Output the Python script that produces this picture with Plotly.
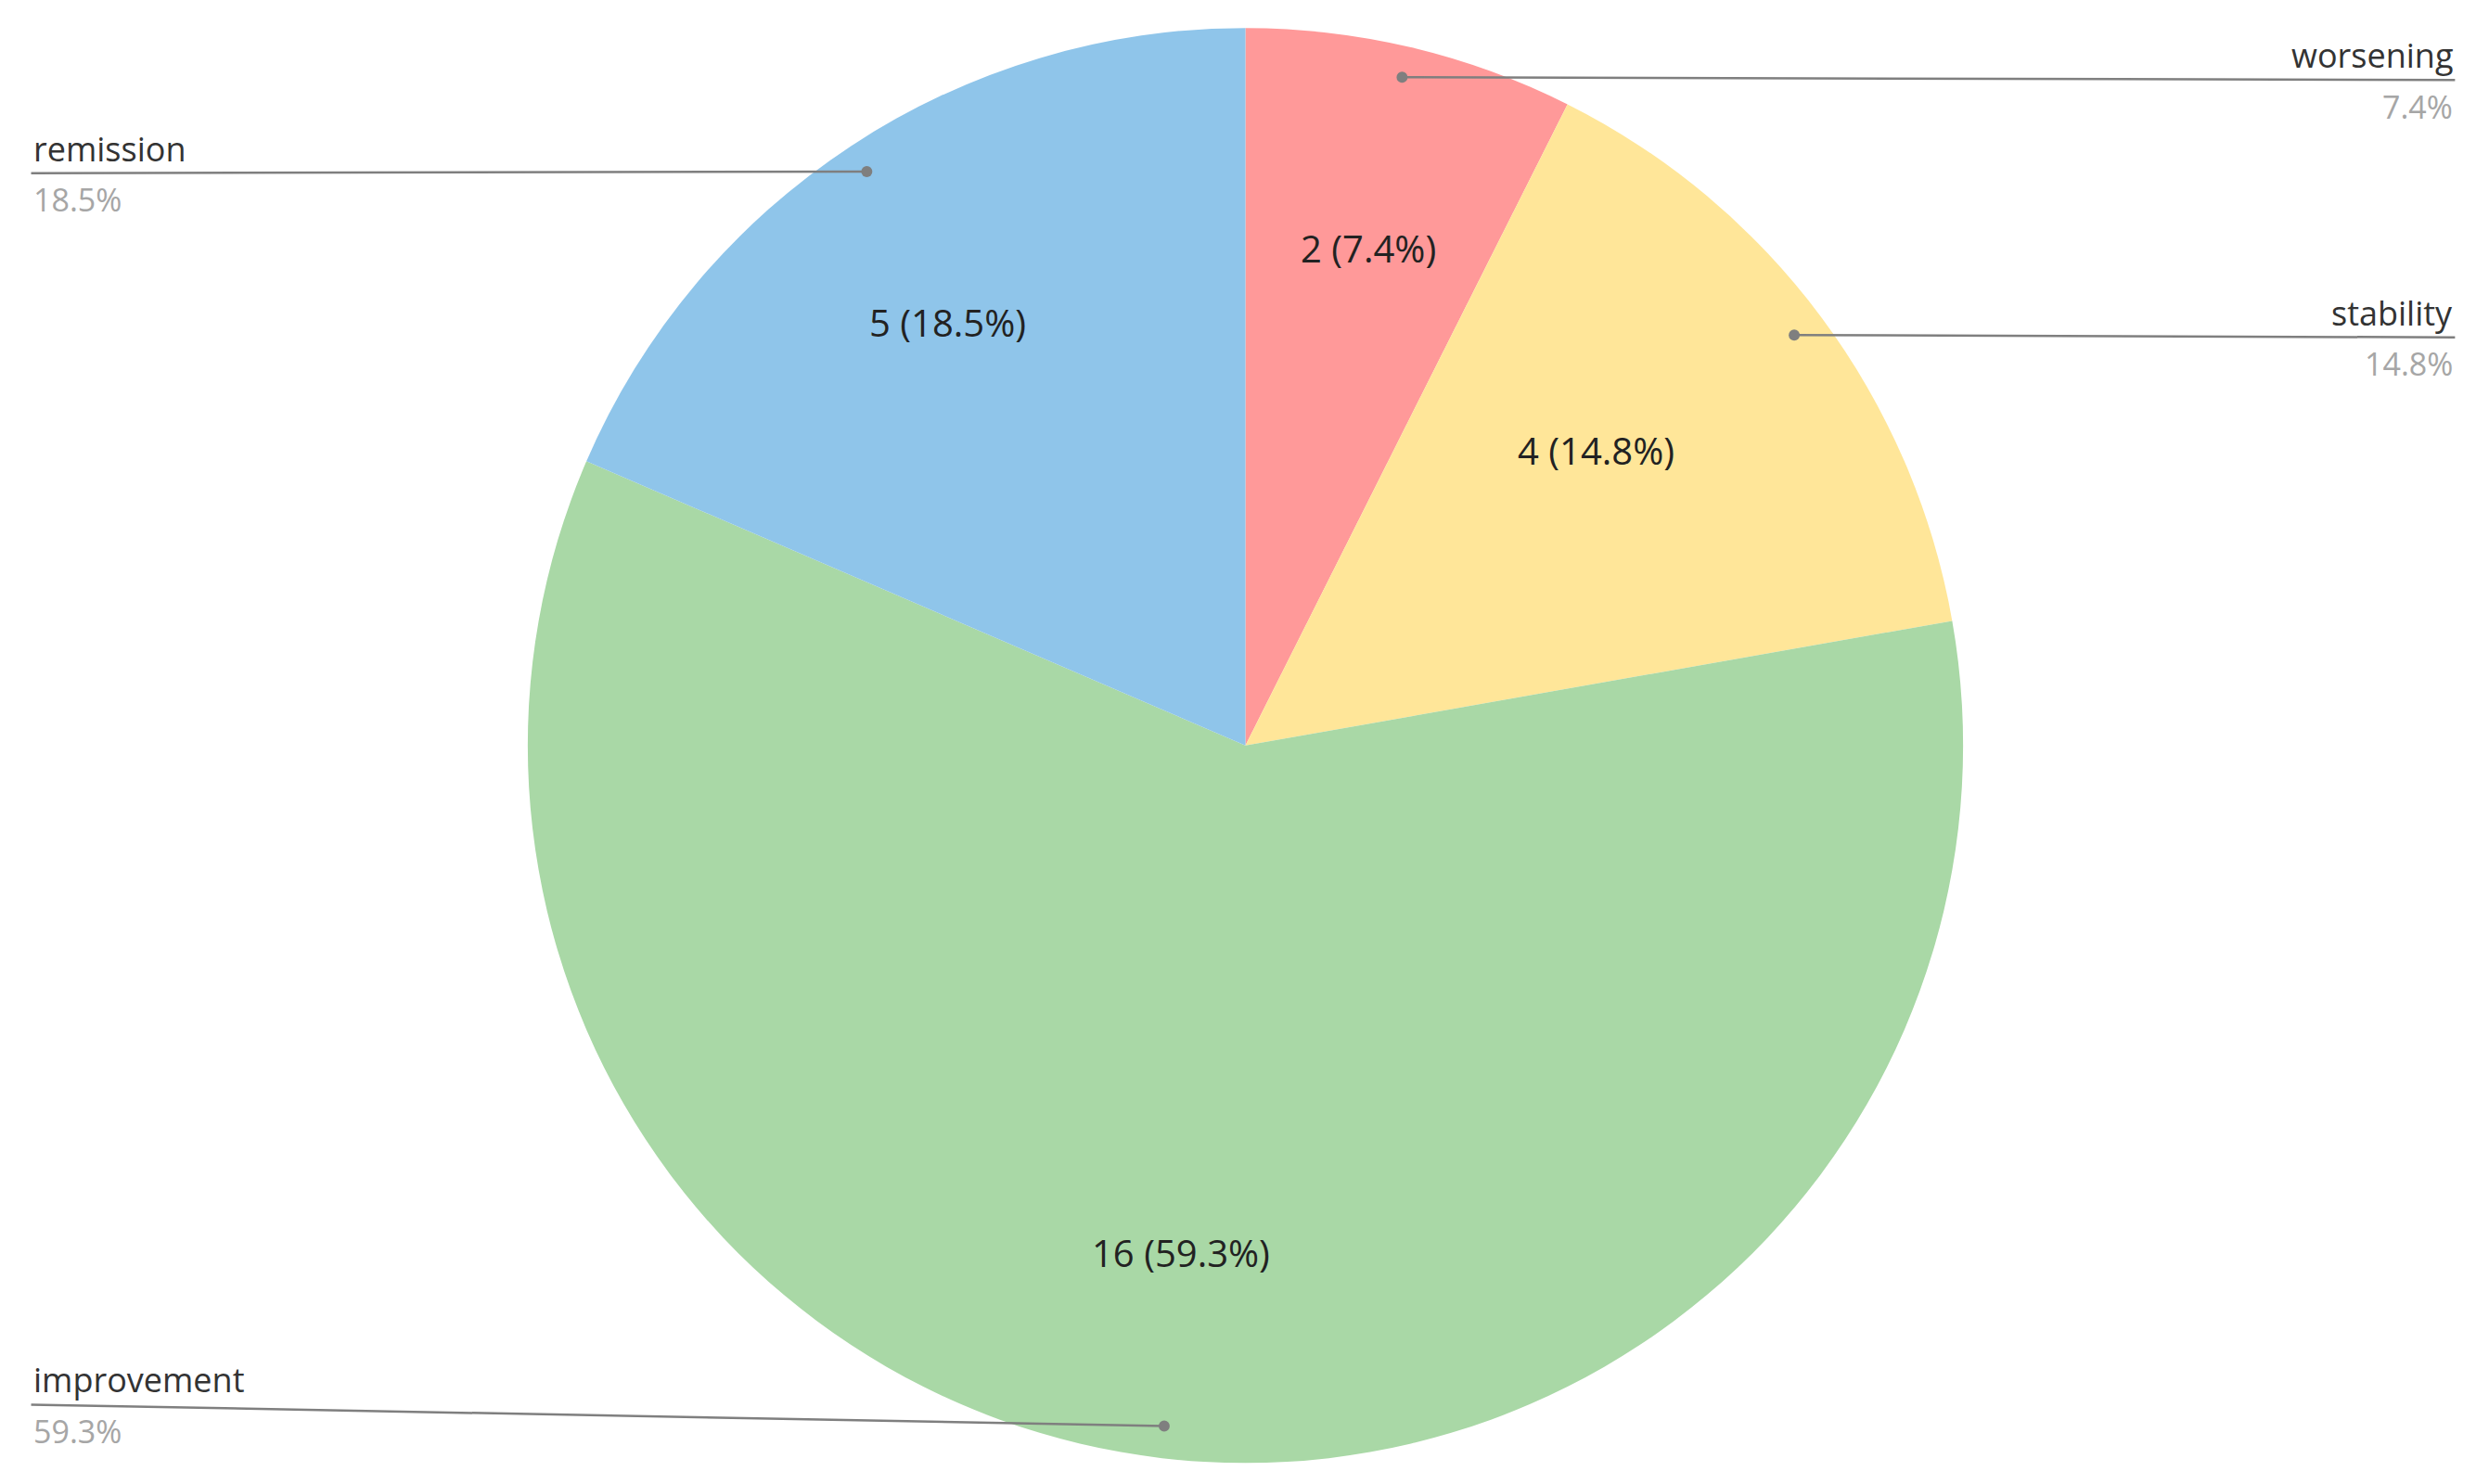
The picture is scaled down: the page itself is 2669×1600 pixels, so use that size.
import math
import plotly.graph_objects as go

labels = ["worsening", "stability", "improvement", "remission"]
values = [2, 4, 16, 5]
colors = ["#FF9999", "#FFE699", "#A9D8A6", "#8FC5EA"]
label_side = ["right", "right", "left", "left"]
label_y_disp = [46, 209, 885, 105]  # y of leader line end (display px of 1568x940 ref)

W, H = 2669, 1600
DW, DH = 1568, 940
CX, CY, R = 783, 467, 455  # display px

fig = go.Figure(go.Pie(
    labels=labels, values=values, sort=False, direction="clockwise", rotation=0,
    marker=dict(colors=colors, line=dict(width=0)), textinfo="none",
    hoverinfo="label+value+percent", showlegend=False,
    domain=dict(x=[0, 1], y=[1 - 922 / DH, 1 - 13 / DH]),
))

def px(x): return x / DW
def py(y): return 1 - y / DH

total = sum(values)
cum = 0
font = "Open Sans, DejaVu Sans, sans-serif"
for lab, v, side, ly in zip(labels, values, label_side, label_y_disp):
    mid = (cum + v / 2) / total * 2 * math.pi
    cum += v
    pct = f"{v / total * 100:.1f}%"
    # inside label
    ix, iy = CX + 0.75 * R * math.sin(mid), CY - 0.75 * R * math.cos(mid)
    fig.add_annotation(x=px(ix), y=py(iy), xref="paper", yref="paper", showarrow=False,
                       text=f"{v} ({pct})", font=dict(family=font, size=40, color="#222222"))
    # leader dot and line
    dx, dy = CX + 0.955 * R * math.sin(mid), CY - 0.955 * R * math.cos(mid)
    ex = 1550 if side == "right" else 15
    fig.add_shape(type="line", xref="paper", yref="paper", x0=px(dx), y0=py(dy), x1=px(ex), y1=py(ly),
                  line=dict(color="#7F7F7F", width=2.5))
    fig.add_shape(type="circle", xref="paper", yref="paper",
                  x0=px(dx - 3.5), x1=px(dx + 3.5), y0=py(dy + 3.5), y1=py(dy - 3.5),
                  fillcolor="#7F7F7F", line=dict(width=0))
    anchor = "right" if side == "right" else "left"
    fig.add_annotation(x=px(ex), y=py(ly), xref="paper", yref="paper", showarrow=False,
                       xanchor=anchor, yanchor="bottom", text=lab,
                       font=dict(family=font, size=36, color="#333333"))
    fig.add_annotation(x=px(ex), y=py(ly + 2), xref="paper", yref="paper", showarrow=False,
                       xanchor=anchor, yanchor="top", text=pct,
                       font=dict(family=font, size=34, color="#A6A6A6"))

fig.update_layout(width=W, height=H, margin=dict(l=0, r=0, t=0, b=0),
                  paper_bgcolor="white", plot_bgcolor="white")
fig.write_html("out.html")
